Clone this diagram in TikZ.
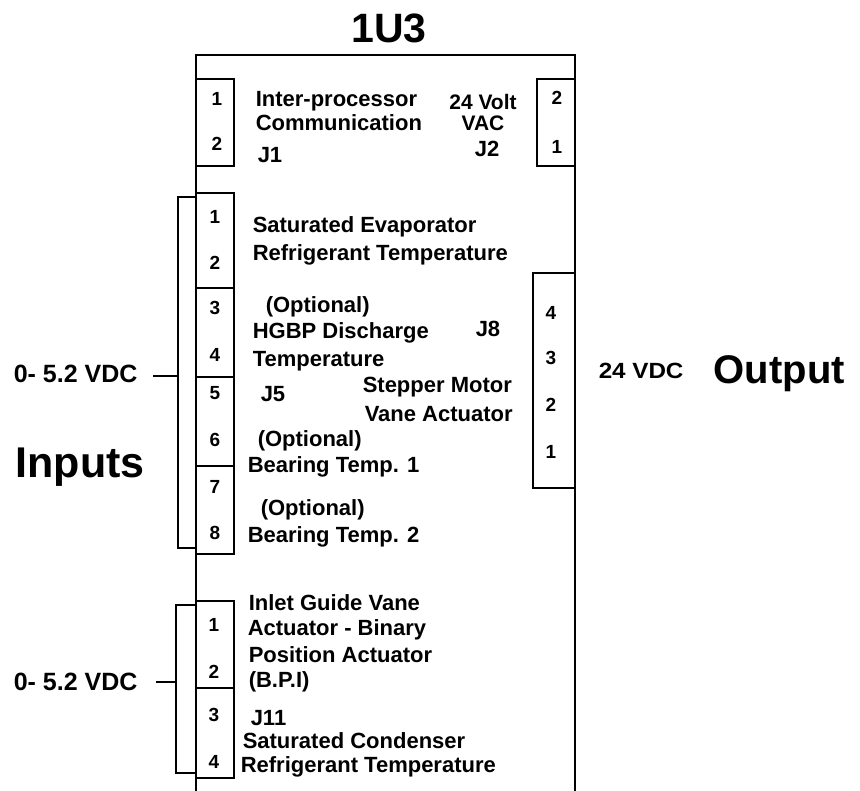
\documentclass[tikz,border=0pt]{standalone}
\usepackage{fontspec}
\setmainfont{Liberation Sans}
\begin{document}
\begin{tikzpicture}[x=1pt,y=-1pt, line width=1.5pt,
  lbl/.style={font=\fontsize{22}{24}\selectfont\bfseries, anchor=base west, inner sep=0pt},
  lblc/.style={font=\fontsize{22}{24}\selectfont\bfseries, anchor=base, inner sep=0pt},
  pinnum/.style={font=\fontsize{19}{21}\selectfont\bfseries, inner sep=0pt},
  conn/.style={draw, inner sep=0pt, outer sep=0pt, minimum width=38pt},
  vdc/.style={font=\fontsize{25}{27}\selectfont\bfseries, anchor=base west, inner sep=0pt},
  big/.style={font=\fontsize{43}{46}\selectfont\bfseries, anchor=base west, inner sep=0pt}]
\useasboundingbox (0,0) rectangle (860,791);

% board outline
\coordinate (bl) at (196,791);
\coordinate (tl) at (196,55);
\coordinate (tr) at (575,55);
\coordinate (br) at (575,791);
\draw (bl) -- (tl) -- (tr) -- (br);

\node[font=\fontsize{41}{44}\selectfont\bfseries, anchor=base, inner sep=0pt] (title) at (389,43) {1U3};

% J1
\node[conn, minimum height=87pt] (J1box) at (215,122.5) {};
\node[pinnum] (j1p1) at (217,99) {1};
\node[pinnum] (j1p2) at (217,144) {2};
\node[lbl] (t1) at (255,107) {Inter-processor};
\node[lbl] (t2) at (255,131) {Communication};
\node[lbl] (tJ1) at (257,163) {J1};

% J2
\node[conn, minimum height=87pt] (J2box) at (556,122.5) {};
\node[pinnum] (j2p2) at (557,98) {2};
\node[pinnum] (j2p1) at (557,147) {1};
\node[lblc, font=\fontsize{21}{23}\selectfont\bfseries] (t3) at (483,110) {24 Volt};
\node[lblc, font=\fontsize{21}{23}\selectfont\bfseries] (t4) at (483,131) {VAC};
\node[lblc] (tJ2) at (487,157) {J2};

% J5
\node[conn, minimum height=95pt] (J5a) at (215,240.5) {};
\node[conn, minimum height=89pt] (J5b) at (215,332.5) {};
\node[conn, minimum height=89pt] (J5c) at (215,421.5) {};
\node[conn, minimum height=88pt] (J5d) at (215,510) {};
\node[pinnum] (j5p1) at (215,217) {1};
\node[pinnum] (j5p2) at (215,263) {2};
\node[pinnum] (j5p3) at (215,308) {3};
\node[pinnum] (j5p4) at (215,355) {4};
\node[pinnum] (j5p5) at (215,393) {5};
\node[pinnum] (j5p6) at (215,440) {6};
\node[pinnum] (j5p7) at (215,487) {7};
\node[pinnum] (j5p8) at (215,533) {8};
\draw (196,197) -- (178,197) -- (178,548) -- (196,548);
\coordinate (b5) at (178,376);

\node[lbl] (t5) at (252,233) {Saturated Evaporator};
\node[lbl] (t6) at (252,261) {Refrigerant Temperature};
\node[lbl] (t7) at (265,313) {(Optional)};
\node[lbl] (t8) at (252,339) {HGBP Discharge};
\node[lbl] (t9) at (252,367) {Temperature};
\node[lbl] (tJ5) at (260,402) {J5};
\node[lbl] (t10) at (257,447) {(Optional)};
\node[lbl] (t11) at (247,473) {Bearing Temp. 1};
\node[lbl] (t12) at (260,515) {(Optional)};
\node[lbl] (t13) at (247,542) {Bearing Temp. 2};

% J8
\node[lbl] (tJ8) at (475,337) {J8};
\node[lbl] (t14) at (362,393) {Stepper Motor};
\node[lbl] (t15) at (364,422) {Vane Actuator};
\node[conn, minimum width=42pt, minimum height=215pt] (J8box) at (554,380.5) {};
\node[pinnum] (j8p4) at (551,313) {4};
\node[pinnum] (j8p3) at (551,358) {3};
\node[pinnum] (j8p2) at (551,405) {2};
\node[pinnum] (j8p1) at (551,452) {1};
\node[anchor=base west, inner sep=0pt] (v24) at (598,379) {\scalebox{1.1}[1]{\fontsize{22}{24}\selectfont\bfseries 24 VDC}};
\node[big, font=\fontsize{40}{44}\selectfont\bfseries] (out) at (713,384) {Output};

% J11
\node[conn, minimum height=87pt] (J11a) at (215,644.5) {};
\node[conn, minimum height=90pt] (J11b) at (215,733) {};
\node[pinnum] (j11p1) at (214,625) {1};
\node[pinnum] (j11p2) at (214,672) {2};
\node[pinnum] (j11p3) at (214,715) {3};
\node[pinnum] (j11p4) at (214,762) {4};
\draw (196,605) -- (176,605) -- (176,773) -- (196,773);
\coordinate (b11) at (176,682);

\node[lbl] (t16) at (248,610) {Inlet Guide Vane};
\node[lbl] (t17) at (247,635) {Actuator - Binary};
\node[lbl] (t18) at (248,662) {Position Actuator};
\node[lbl] (t19) at (248,687) {(B.P.I)};
\node[lbl] (tJ11) at (250,725) {J11};
\node[lbl] (t20) at (242,748) {Saturated Condenser};
\node[lbl] (t21) at (240,772) {Refrigerant Temperature};

% inputs
\node[vdc] (vdc1) at (13,383) {0- 5.2 VDC};
\node[vdc] (vdc2) at (13,690) {0- 5.2 VDC};
\draw ([xshift=15pt]vdc1.east |- b5) -- (b5);
\draw ([xshift=18pt]vdc2.east |- b11) -- (b11);
\node[big] (inp) at (15,478) {Inputs};
\end{tikzpicture}
\end{document}
